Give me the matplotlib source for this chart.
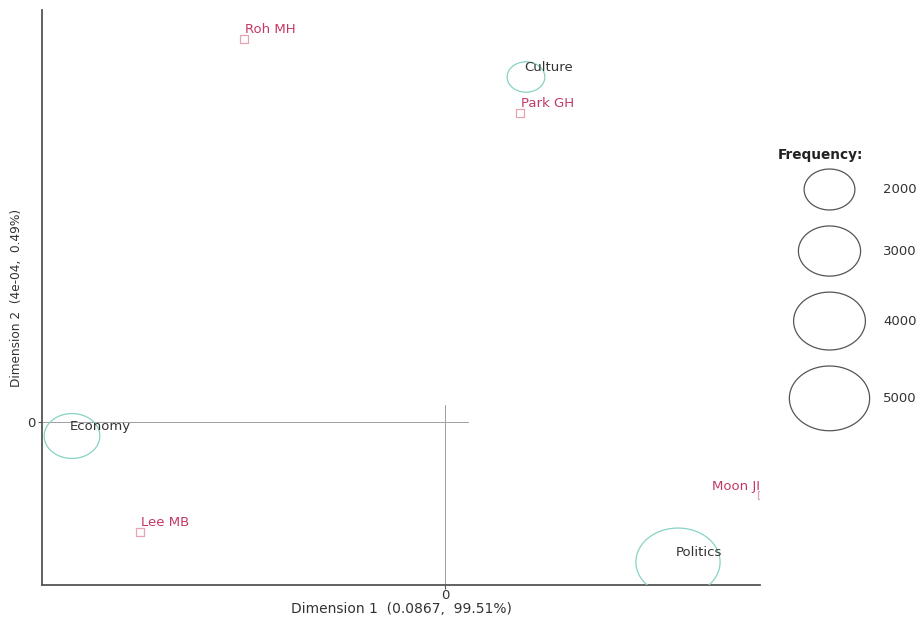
import numpy as np
import matplotlib
matplotlib.use("Agg")
import matplotlib.pyplot as plt
from matplotlib.path import Path
from matplotlib.markers import MarkerStyle

plt.rcParams["font.family"] = ["DejaVu Sans"]

# Correspondence analysis coordinates
row_names = ["Roh MH", "Park GH", "Lee MB", "Moon JI"]
row_dim1 = [-0.201, 0.075, -0.305, 0.317]
row_dim2 = [0.0383, 0.0309, -0.0110, -0.0073]

col_names = ["Culture", "Economy", "Politics"]
col_dim1 = [0.081, -0.373, 0.233]
col_dim2 = [0.0345, -0.0014, -0.0140]
col_freq = [1100, 2400, 5500]

legend_freq = [2000, 3000, 4000, 5000]

dim1_label = "Dimension 1  (0.0867,  99.51%)"
dim2_label = "Dimension 2  (4e-04,  0.49%)"

# marker area per unit of frequency (points^2)
AREA_SCALE = 0.668
ASPECT = 1.24  # ellipse width / height

theta = np.linspace(0, 2 * np.pi, 121)
ellipse_path = Path(np.column_stack([np.cos(theta), np.sin(theta) / ASPECT]), closed=True)
ellipse_marker = MarkerStyle(ellipse_path)

fig = plt.figure(figsize=(9.21, 6.17), dpi=100)
W, H = 921, 617
ax = fig.add_axes([42 / W, (H - 585) / H, (760 - 42) / W, (585 - 10) / H])

ax.set_xlim(-0.403, 0.315)
ax.set_ylim(-0.0163, 0.0412)

# partial zero reference lines
ax.plot([-0.403, 0.023], [0, 0], color="#a0a0a0", lw=0.7, zorder=1)
ax.plot([0, 0], [-0.0163, 0.0017], color="#a0a0a0", lw=0.7, zorder=1)

# column points: ellipses sized by frequency
ax.scatter(col_dim1, col_dim2, s=[AREA_SCALE * f for f in col_freq], marker=ellipse_marker,
           facecolors="none", edgecolors="#86d3c4", linewidths=0.9, zorder=3)
for name, x, y in zip(col_names, col_dim1, col_dim2):
    ax.annotate(name, (x, y), xytext=(-1.5, 7), textcoords="offset points",
                ha="left", va="center", fontsize=9.5, color="#333333", zorder=4)

# row points: hollow squares
ax.scatter(row_dim1, row_dim2, s=36, marker="s", facecolors="none",
           edgecolors="#e8a2b2", linewidths=0.9, zorder=3)
for name, x, y in zip(row_names, row_dim1, row_dim2):
    right = x > 0.25
    ax.annotate(name, (x, y), xytext=(-1.5 if right else 1, 7 if not right else 6),
                textcoords="offset points", ha="right" if right else "left", va="center",
                fontsize=9.5, color="#c23a63", zorder=4, annotation_clip=False)

for side in ("top", "right"):
    ax.spines[side].set_visible(False)
for side in ("left", "bottom"):
    ax.spines[side].set_color("#555555")
    ax.spines[side].set_linewidth(1.3)

ax.set_xticks([0])
ax.set_yticks([0])
ax.tick_params(length=3, width=0.8, color="#555555", labelsize=9.5, labelcolor="#333333")
ax.tick_params(axis="x", pad=0)
ax.tick_params(axis="y", pad=2)
ax.set_xlabel(dim1_label, fontsize=10, color="#333333")
ax.set_ylabel(dim2_label, fontsize=8.7, color="#333333")
ax.xaxis.set_label_coords(0.5, -0.029)
ax.yaxis.set_label_coords(-0.026, 0.5)

# frequency legend drawn in figure pixel space
lax = fig.add_axes([0, 0, 1, 1], facecolor="none")
lax.set_xlim(0, W)
lax.set_ylim(H, 0)
lax.axis("off")
lax.text(778, 155, "Frequency:", fontsize=9.8, fontweight="bold", color="#222222",
         ha="left", va="center")
px_per_pt = fig.dpi / 72
heights = [np.sqrt(AREA_SCALE * f) * px_per_pt / ASPECT for f in legend_freq]
gap = 16
centers = [189.5]
for h_prev, h_next in zip(heights[:-1], heights[1:]):
    centers.append(centers[-1] + h_prev / 2 + gap + h_next / 2)
lax.scatter([829.5] * len(legend_freq), centers, s=[AREA_SCALE * f for f in legend_freq],
            marker=ellipse_marker, facecolors="none", edgecolors="#555555", linewidths=0.9)
for f, cy in zip(legend_freq, centers):
    lax.text(883, cy, str(f), fontsize=9.5, color="#333333", ha="left", va="center")

fig.savefig("out.png", dpi=100)
